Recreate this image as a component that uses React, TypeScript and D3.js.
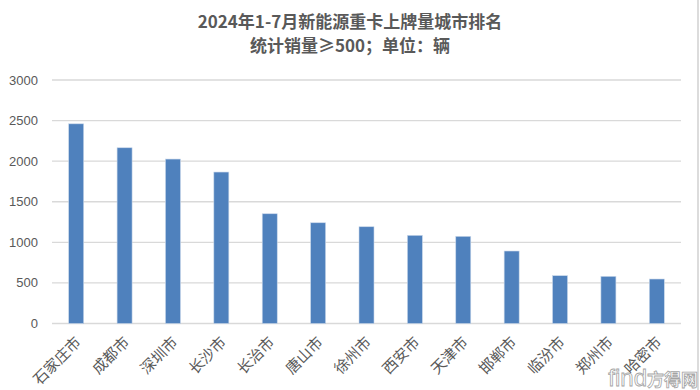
import React from 'react'
import * as d3 from 'd3'

const cities = ['石家庄市', '成都市', '深圳市', '长沙市', '长治市', '唐山市', '徐州市', '西安市', '天津市', '邯郸市', '临汾市', '郑州市', '哈密市']
const sales = [2460, 2165, 2026, 1866, 1352, 1241, 1192, 1086, 1074, 893, 589, 581, 548]
const yTicks = [0, 500, 1000, 1500, 2000, 2500, 3000]

const width = 700
const height = 390
const left = 52
const right = 681
const top = 80
const bottom = 323.5
const barColor = '#4f81bd'
const gridColor = '#d9d9d9'
const textColor = '#595959'
const font = '"Noto Sans CJK SC", "Liberation Sans", sans-serif'

export default function App() {
  const x = d3.scaleBand<string>().domain(cities).range([left, right]).paddingInner(0.69).paddingOuter(0.345)
  const y = d3.scaleLinear().domain([0, 3000]).range([bottom, top])

  return (
    <svg width={width} height={height} style={{ position: 'absolute', left: 0, top: 0, display: 'block' }}>
      <rect width={width} height={height} fill='#fff' />
      <line x1={698} x2={698} y1={0} y2={height} stroke='#d0d0d0' strokeWidth={1.5} />
      <text x={350} y={28} textAnchor='middle' fontFamily={font} fontWeight='bold' fontSize={17} fill={textColor}>
        2024年1-7月新能源重卡上牌量城市排名
      </text>
      <text x={350} y={52} textAnchor='middle' fontFamily={font} fontWeight='bold' fontSize={17} fill={textColor}>
        统计销量≥500；单位：辆
      </text>
      {yTicks.map(t => (
        <g key={t}>
          <line x1={left} x2={right} y1={y(t)} y2={y(t)} stroke={gridColor} strokeWidth={1.3} />
          <text x={38} y={y(t)} dy='0.35em' textAnchor='end' fontFamily='"Liberation Sans", Arial, sans-serif' fontSize={13} fill={textColor}>
            {t}
          </text>
        </g>
      ))}
      {cities.map((c, i) => (
        <rect key={c} x={x(c)} y={y(sales[i])} width={x.bandwidth()} height={bottom - y(sales[i])}
          fill={barColor} stroke='#c9d7ea' strokeWidth={0.6} />
      ))}
      {cities.map(c => {
        const cx = (x(c) as number) + x.bandwidth() / 2 + 2
        return (
          <text key={c} transform={`translate(${cx},${bottom + 16}) rotate(-45)`} textAnchor='end' dy='0.35em'
            fontFamily={font} fontSize={15} fill={textColor}>
            {c}
          </text>
        )
      })}
      <text x={698} y={386} textAnchor='end' fontFamily='"Liberation Sans", sans-serif' fontSize={24}
        fill='#fff' stroke='#9a9a9a' strokeWidth={0.8} opacity={0.9}>
        find<tspan fontFamily={font} fontSize={17} fontWeight='bold'>方得网</tspan>
      </text>
    </svg>
  )
}
